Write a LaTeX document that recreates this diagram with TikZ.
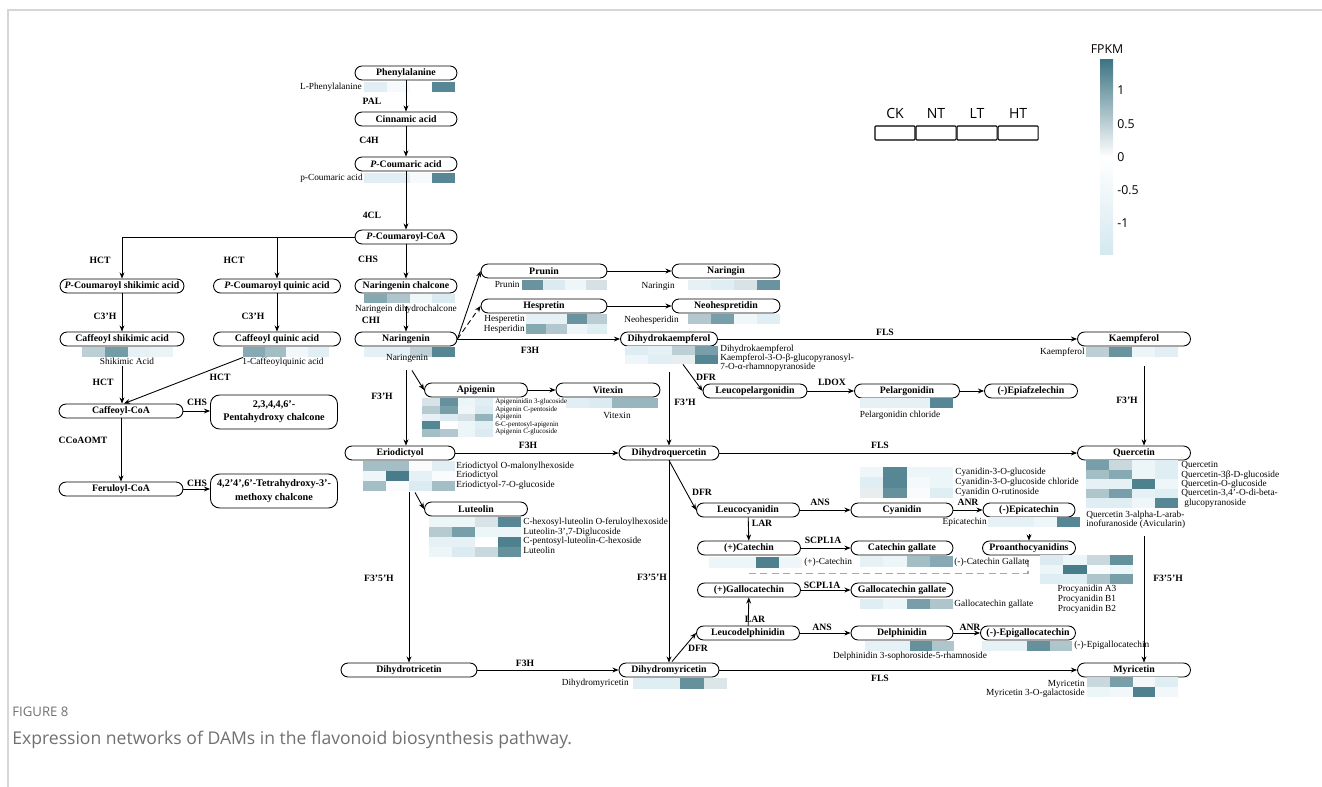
\documentclass[tikz,border=0pt]{standalone}
\usepackage{fontspec}
\setmainfont{Liberation Serif}
\newfontfamily\capfont{Open Sans}
\usetikzlibrary{arrows.meta, positioning, calc}
\definecolor{hi}{HTML}{3E7584}
\definecolor{lo}{HTML}{D4E8EF}
\definecolor{FrameGray}{HTML}{D6D6D6}
\definecolor{CapGray}{HTML}{707070}
\newcommand{\heatrow}[5]{%
  \foreach \hc [count=\k from 0] in {#5} {\fill[\hc] ({#1+\k*#3},#2) rectangle ++(#3,#4);}}

\begin{document}
\begin{tikzpicture}[x=0.02cm, y=-0.02cm,
  comp/.style={draw, fill=white, line width=0.5pt, rounded corners=0.14cm, minimum height=0.28cm, minimum width=#1, inner sep=0pt, font=\fontsize{5.6}{6}\selectfont\bfseries},
  comp/.default=2.04cm,
  chal/.style={draw, fill=white, line width=0.5pt, rounded corners=0.18cm, minimum height=0.68cm, minimum width=2.54cm, align=center, inner sep=0pt, font=\fontsize{5.8}{7.5}\selectfont\bfseries},
  enz/.style={inner sep=0pt, font=\fontsize{5.5}{6}\selectfont\bfseries},
  lab/.style={inner sep=0pt, font=\fontsize{5.3}{5.3}\selectfont},
  sml/.style={inner sep=0pt, anchor=west, font=\fontsize{4}{4}\selectfont},
  arr/.style={-{Stealth[length=3.5pt,width=2.8pt]}, line width=0.5pt},
  dasharr/.style={arr, dash pattern=on 3pt off 2pt},
  guide/.style={gray!70, line width=0.6pt, dash pattern=on 4pt off 2.5pt},
  legbox/.style={draw, line width=0.6pt, rounded corners=0.5pt, minimum width=0.8cm, minimum height=0.28cm, inner sep=0pt},
  sans/.style={inner sep=0pt, font=\capfont\fontsize{7}{8}\selectfont},
]
\useasboundingbox (0,0) rectangle (1322,787);
\draw[FrameGray, line width=0.7pt] (8,787) -- (8,10) -- (1322,10);

\node[comp] (phe) at (406,73) {Phenylalanine};
\node[comp] (cin) at (406,119) {Cinnamic acid};
\node[comp] (pca) at (406,164) {\textit{P}-Coumaric acid};
\node[comp] (pcoa) at (406,237) {\textit{P}-Coumaroyl-CoA};
\node[comp] (nch) at (406,286) {Naringenin chalcone};
\node[comp] (nar) at (406,339) {Naringenin};
\node[comp=2.48cm] (pcs) at (122,286) {\textit{P}-Coumaroyl shikimic acid};
\node[comp=2.54cm] (pcq) at (277,286) {\textit{P}-Coumaroyl quinic acid};
\node[comp=2.48cm] (cfs) at (122,339) {Caffeoyl shikimic acid};
\node[comp=2.54cm] (cfq) at (277,339) {Caffeoyl quinic acid};
\node[comp=2.48cm] (cfcoa) at (121,411) {Caffeoyl-CoA};
\node[comp=2.48cm] (fercoa) at (121,489) {Feruloyl-CoA};
\node[chal] (pent) at (274,412) {2,3,4,4,6'-\\Pentahydroxy chalcone};
\node[chal] (tetra) at (274,491) {4,2'4',6'-Tetrahydroxy-3'-\\methoxy chalcone};
\node[comp=2.52cm] (pru) at (544,271) {Prunin};
\node[comp=2.52cm] (hes) at (544,306) {Hespretin};
\node[comp=2.16cm] (nrg) at (726,271) {Naringin};
\node[comp=2.16cm] (neo) at (726,306) {Neohespretidin};
\node[comp=1.94cm] (dhk) at (669,339) {Dihydrokaempferol};
\node[comp=2.26cm] (kae) at (1134,339) {Kaempferol};
\node[comp=2.06cm] (api) at (476,390) {Apigenin};
\node[comp=2.08cm] (vit) at (608,390) {Vitexin};
\node[comp=2.08cm] (lpg) at (755,391) {Leucopelargonidin};
\node[comp=2.1cm] (pel) at (907,391) {Pelargonidin};
\node[comp=1.86cm] (epiaf) at (1031,391) {(-)Epiafzelechin};
\node[comp=2.2cm] (eri) at (400,453) {Eriodictyol};
\node[comp=2.0cm] (dhq) at (669,453) {Dihydroquercetin};
\node[comp=2.26cm] (que) at (1134,453) {Quercetin};
\node[comp=2.06cm] (lut) at (476,509) {Luteolin};
\node[comp=2.06cm] (lcy) at (748,510) {Leucocyanidin};
\node[comp=2.04cm] (cya) at (902,510) {Cyanidin};
\node[comp=1.84cm] (epic) at (1029,510) {(-)Epicatechin};
\node[comp=2.06cm] (cat) at (749,548) {(+)Catechin};
\node[comp=2.04cm] (catg) at (902,548) {Catechin gallate};
\node[comp=1.86cm] (proa) at (1029,548) {Proanthocyanidins};
\node[comp=2.06cm] (gcat) at (749,590) {(+)Gallocatechin};
\node[comp=2.04cm] (gcatg) at (902,590) {Gallocatechin gallate};
\node[comp=2.06cm] (ldel) at (748,633) {Leucodelphinidin};
\node[comp=2.04cm] (del) at (902,633) {Delphinidin};
\node[comp=1.9cm] (egc) at (1028,633) {(-)-Epigallocatechin};
\node[comp=2.72cm] (dht) at (409,670) {Dihydrotricetin};
\node[comp=2.0cm] (dhm) at (669,670) {Dihydromyricetin};
\node[comp=2.26cm] (myr) at (1134,670) {Myricetin};

\heatrow{364}{82}{22.75}{10}{lo!70,lo!20,white,hi!87}
\heatrow{364}{173}{22.75}{10}{lo!70,lo!70,lo!20,hi!87}
\heatrow{82}{347}{22.75}{10}{hi!35,hi!72,lo!60,lo!50}
\heatrow{243}{347}{21.5}{10}{hi!62,hi!48,lo!30,lo!70}
\heatrow{364}{294}{22.75}{9.5}{hi!63,hi!42,lo!35,lo!85}
\heatrow{364}{347}{22.75}{9.5}{lo!65,lo!65,hi!33,hi!88}
\heatrow{522}{280}{21.25}{10}{hi!78,lo!85,lo!40,hi!22}
\heatrow{526}{314}{20.25}{10}{lo!60,lo!60,hi!78,hi!36}
\heatrow{526}{324}{20.25}{10}{hi!63,hi!40,lo!40,lo!75}
\heatrow{688}{280}{23}{10}{lo!60,lo!75,hi!20,hi!78}
\heatrow{688}{314}{23}{10}{hi!40,hi!70,lo!35,lo!70}
\heatrow{625}{346}{23.25}{9}{lo!80,lo!60,hi!35,hi!70}
\heatrow{625}{355}{23.25}{9}{lo!40,lo!70,hi!12,hi!88}
\heatrow{1086}{347}{23}{10}{hi!35,hi!78,lo!45,lo!70}
\heatrow{422}{398}{17.75}{7.8}{hi!20,hi!80,lo!45,lo!70}
\heatrow{422}{405.8}{17.75}{7.8}{hi!38,hi!70,lo!35,lo!85}
\heatrow{422}{413.6}{17.75}{7.8}{lo!60,lo!85,hi!22,hi!55}
\heatrow{422}{421.4}{17.75}{7.8}{hi!88,white,lo!45,lo!70}
\heatrow{422}{429.2}{17.75}{7.8}{hi!47,hi!40,lo!45,lo!85}
\heatrow{566}{398}{23}{9.5}{lo!70,lo!85,hi!53,hi!53}
\heatrow{363}{461}{23}{10}{hi!47,hi!47,lo!15,lo!70}
\heatrow{363}{471}{23}{10}{lo!40,hi!95,lo!60,lo!15}
\heatrow{363}{481}{23}{10}{hi!47,lo!15,lo!85,hi!47}
\heatrow{429}{517}{23}{10}{lo!45,lo!45,hi!20,hi!87}
\heatrow{429}{527}{23}{10}{hi!38,hi!70,lo!45,lo!45}
\heatrow{429}{537}{23}{10}{lo!60,lo!60,white,hi!92}
\heatrow{429}{547}{23}{10}{lo!45,lo!85,hi!28,hi!80}
\heatrow{860}{398}{23.25}{10}{lo!60,lo!60,lo!60,hi!87}
\heatrow{860}{467}{23.25}{10.3}{lo!40,hi!87,lo!45,lo!45}
\heatrow{860}{477.3}{23.25}{10.3}{lo!75,hi!87,lo!25,lo!45}
\heatrow{860}{487.6}{23.25}{10.3}{hi!12,hi!80,lo!15,lo!75}
\heatrow{988}{517}{23}{10}{lo!60,lo!60,lo!40,hi!87}
\heatrow{1040}{555}{23.25}{9.5}{lo!85,lo!45,hi!28,hi!80}
\heatrow{1040}{564.5}{23.25}{9.5}{lo!45,hi!95,lo!15,lo!45}
\heatrow{1040}{574}{23.25}{9.5}{lo!75,lo!75,hi!42,hi!70}
\heatrow{709}{557}{23.25}{11}{lo!45,lo!45,hi!92,lo!40}
\heatrow{860}{556}{23.25}{11}{lo!60,lo!45,hi!47,hi!62}
\heatrow{860}{599}{23.25}{10}{lo!75,lo!45,hi!70,hi!42}
\heatrow{865}{641}{22.25}{10}{lo!60,lo!60,hi!80,hi!42}
\heatrow{982}{641}{22.5}{10}{lo!60,lo!60,hi!80,hi!42}
\heatrow{633}{678}{23.5}{11}{lo!75,lo!75,hi!80,hi!18}
\heatrow{1087}{677}{22.75}{10}{hi!28,hi!70,lo!30,lo!75}
\heatrow{1087}{687}{22.75}{10}{lo!45,lo!30,hi!92,lo!30}
\heatrow{1086}{460}{23}{9.6}{hi!70,hi!28,lo!45,lo!75}
\heatrow{1086}{469.6}{23}{9.6}{hi!47,hi!62,lo!45,lo!75}
\heatrow{1086}{479.2}{23}{9.6}{lo!60,lo!60,hi!92,lo!40}
\heatrow{1086}{488.8}{23}{9.6}{hi!42,hi!70,lo!60,lo!75}
\heatrow{1086}{498.4}{23}{9.6}{lo!75,lo!75,lo!40,hi!87}

\draw[arr] (phe) -- (cin);
\draw[arr] (cin) -- (pca);
\draw[arr] (pca) -- (pcoa);
\draw[arr] (pcoa) -- (nch);
\draw[arr] (pcoa.west) -| (pcs.north);
\draw[arr] (pcoa.west -| pcq.north) -- (pcq.north);
\draw[arr] (pcs) -- (cfs);
\draw[arr] (pcq) -- (cfq);
\draw[arr] ($(cfs.south)+(0,20)$) -- (cfs.south |- cfcoa.north);
\draw[arr] ($(cfq.south)+(-34,11)$) -- ($(cfcoa.north)+(3,0)$);
\draw[arr] (cfcoa) -- (fercoa);
\draw[arr] (cfcoa.east) -- (cfcoa.east -| pent.west);
\draw[arr] (fercoa.east) -- (fercoa.east -| tetra.west);
\draw[arr] ($(nch.south)+(0,13)$) -- (nar);
\draw[arr] (nar.east) -- (pru.west);
\draw[dasharr] (nar.east) -- (hes.west);
\draw[arr] (nar) -- (dhk);
\draw[arr] (pru) -- (nrg);
\draw[arr] (hes) -- (neo);
\draw[arr] ($(nar.south)+(0,24)$) -- (nar.south |- eri.north);
\draw[arr] ($(nar.south)+(6,24)$) -- (api.west);
\draw[arr] (api) -- (vit);
\draw[arr] (dhk) -- (kae);
\draw[arr] ($(kae.south)+(10,20)$) -- ($(que.north)+(10,0)$);
\draw[arr] ($(dhk.south)+(0,26)$) -- (dhq);
\draw[arr] ($(dhk.south)+(14,18)$) -- (lpg.west);
\draw[arr] (lpg) -- (pel);
\draw[arr] (pel) -- (epiaf);
\draw[arr] (eri) -- (dhq);
\draw[arr] (dhq) -- (que);
\draw[arr] ($(eri.south)+(15,32)$) -- (lut.west);
\draw[arr] ($(eri.south -| dht.north)+(0,32)$) -- (dht.north);
\draw[arr] (dht) -- (dhm);
\draw[arr] (dhq) -- (dhm);
\draw[arr] (dhq.south) -- (lcy.west);
\draw[arr] (lcy) -- (cya);
\draw[arr] (cya) -- (epic);
\draw[dasharr] ($(epic.south)+(0,17)$) -- (proa);
\draw[arr] (lcy) -- (cat);
\draw[arr] (cat) -- (catg);
\draw[guide] ($(cat.south)+(0,18)$) -| ($(proa.south)+(-1,3)$);
\draw[arr] (ldel) -- (gcat);
\draw[arr] (gcat) -- (gcatg);
\draw[arr] (ldel) -- (del);
\draw[arr] (del) -- (egc);
\draw[arr] ($(dhm.north)+(3,-1)$) -- (ldel.west);
\draw[arr] (dhm) -- (myr);
\draw[arr] ($(que.south)+(10,76)$) -- ($(myr.north)+(10,0)$);

\node[enz] (pal) at (372,101) {PAL};
\node[enz] (c4h) at (369,140) {C4H};
\node[enz] (cl4) at (372,215) {4CL};
\node[enz] (chs) at (368,259) {CHS};
\node[enz] (chi) at (371,320) {CHI};
\node[enz] (hct1) at (100,260) {HCT};
\node[enz] (hct2) at (234,260) {HCT};
\node[enz] (c3h1) at (105,316) {C3'H};
\node[enz] (c3h2) at (253,316) {C3'H};
\node[enz] (hct3) at (103,382) {HCT};
\node[enz] (hct4) at (220,377) {HCT};
\node[enz] (chs2) at (197,402) {CHS};
\node[enz] (ccoa) at (83,440) {CCoAOMT};
\node[enz] (chs3) at (197,483) {CHS};
\node[enz] (f3h1) at (530,350) {F3H};
\node[enz] (f3h2) at (382,396) {F3'H};
\node[enz] (f3h3) at (528,445) {F3H};
\node[enz] (f3h4) at (685,402) {F3'H};
\node[enz] (dfr1) at (706,377) {DFR};
\node[enz] (ldox) at (832,382) {LDOX};
\node[enz] (fls1) at (885,332) {FLS};
\node[enz] (f3h5) at (1127,400) {F3'H};
\node[enz] (fls2) at (880,445) {FLS};
\node[enz] (dfr2) at (702,492) {DFR};
\node[enz] (ans1) at (820,502) {ANS};
\node[enz] (lar1) at (762,523) {LAR};
\node[enz] (anr1) at (968,502) {ANR};
\node[enz] (scp1) at (823,540) {SCPL1A};
\node[enz] (f35h1) at (652,577) {F3'5'H};
\node[enz] (f35h2) at (379,578) {F3'5'H};
\node[enz] (f35h3) at (1168,578) {F3'5'H};
\node[enz] (scp2) at (822,585) {SCPL1A};
\node[enz] (lar2) at (755,619) {LAR};
\node[enz] (ans2) at (822,627) {ANS};
\node[enz] (anr2) at (970,627) {ANR};
\node[enz] (dfr3) at (698,648) {DFR};
\node[enz] (f3h6) at (525,663) {F3H};
\node[enz] (fls3) at (880,678) {FLS};

\node[lab, anchor=east] (tphe) at (362,87) {L-Phenylalanine};
\node[lab, anchor=east] (tpca) at (363,178) {p-Coumaric acid};
\node[lab] (tshik) at (127,361) {Shikimic Acid};
\node[lab] (tcq) at (283,362) {1-Caffeoylquinic acid};
\node[lab] (tndc) at (406,309) {Naringein dihydrochalcone};
\node[lab] (tnar) at (407,358) {Naringenin};
\node[lab, anchor=east] (tpru) at (520,284) {Prunin};
\node[lab, anchor=east] (thes1) at (525,319) {Hesperetin};
\node[lab, anchor=east] (thes2) at (525,329) {Hesperidin};
\node[lab, anchor=east] (tnrg) at (675,286) {Naringin};
\node[lab, anchor=east] (tneo) at (679,320) {Neohesperidin};
\node[lab, anchor=west] (tdhk1) at (720,349) {Dihydrokaempferol};
\node[lab, anchor=west] (tdhk2) at (720,358) {Kaempferol-3-O-β-glucopyranosyl-};
\node[lab, anchor=west] (tdhk3) at (720,367) {7-O-α-rhamnopyranoside};
\node[lab, anchor=east] (tkae) at (1085,352) {Kaempferol};
\node[sml] (tapi1) at (495,402) {Apigeninidin 3-glucoside};
\node[sml] (tapi2) at (495,409.5) {Apigenin C-pentoside};
\node[sml] (tapi3) at (495,417) {Apigenin};
\node[sml] (tapi4) at (495,424.5) {6-C-pentosyl-apigenin};
\node[sml] (tapi5) at (495,432) {Apigenin C-glucoside};
\node[lab] (tvit) at (617,415) {Vitexin};
\node[lab, anchor=west] (teri1) at (456,466) {Eriodictyol O-malonylhexoside};
\node[lab, anchor=west] (teri2) at (456,475) {Eriodictyol};
\node[lab, anchor=west] (teri3) at (456,485) {Eriodictyol-7-O-glucoside};
\node[lab, anchor=west] (tlut1) at (523,522) {C-hexosyl-luteolin O-feruloylhexoside};
\node[lab, anchor=west] (tlut2) at (523,532) {Luteolin-3',7-Diglucoside};
\node[lab, anchor=west] (tlut3) at (523,541) {C-pentosyl-luteolin-C-hexoside};
\node[lab, anchor=west] (tlut4) at (523,550) {Luteolin};
\node[lab] (tpel) at (900,415) {Pelargonidin chloride};
\node[lab, anchor=west] (tcya1) at (955,472) {Cyanidin-3-O-glucoside};
\node[lab, anchor=west] (tcya2) at (955,482) {Cyanidin-3-O-glucoside chloride};
\node[lab, anchor=west] (tcya3) at (955,492) {Cyanidin O-rutinoside};
\node[lab, anchor=east] (tepic) at (987,522) {Epicatechin};
\node[lab, anchor=west] (tcat) at (804,562) {(+)-Catechin};
\node[lab, anchor=west] (tcatg) at (954,562) {(-)-Catechin Gallate};
\node[lab] (tpro1) at (1087,589) {Procyanidin A3};
\node[lab] (tpro2) at (1087,599) {Procyanidin B1};
\node[lab] (tpro3) at (1087,609) {Procyanidin B2};
\node[lab, anchor=west] (tgcatg) at (954,604) {Gallocatechin gallate};
\node[lab] (tdel) at (910,656) {Delphinidin 3-sophoroside-5-rhamnoside};
\node[lab, anchor=west] (tegc) at (1074,645) {(-)-Epigallocatechin};
\node[lab, anchor=east] (tdhm) at (629,683) {Dihydromyricetin};
\node[lab, anchor=east] (tmyr1) at (1085,684) {Myricetin};
\node[lab, anchor=east] (tmyr2) at (1085,693) {Myricetin 3-O-galactoside};
\node[lab, anchor=west] (tque1) at (1181,465) {Quercetin};
\node[lab, anchor=west] (tque2) at (1181,475) {Quercetin-3β-D-glucoside};
\node[lab, anchor=west] (tque3) at (1181,484) {Quercetin-O-glucoside};
\node[lab, anchor=west] (tque4) at (1181,493) {Quercetin-3,4'-O-di-beta-};
\node[lab, anchor=west] (tque5) at (1184,503) {glucopyranoside};
\node[lab, anchor=west] (tque6) at (1086,515) {Quercetin 3-alpha-L-arab-};
\node[lab, anchor=west] (tque7) at (1086,524) {inofuranoside (Avicularin)};

\node[legbox] (ck) at (895,133) {};
\node[legbox, right=0pt of ck] (nt) {};
\node[legbox, right=0pt of nt] (lt) {};
\node[legbox, right=0pt of lt] (ht) {};
\foreach \g in {ck,nt,lt,ht} {\node[sans, font=\capfont\fontsize{8}{8}\selectfont, above=3.5pt of \g] (t\g) {\MakeUppercase{\g}};}

\shade[top color=hi, bottom color=white] (1100,60) rectangle (1113,157);
\shade[top color=white, bottom color=lo] (1100,157) rectangle (1113,255);
\node[sans] (fpkm) at (1107,49) {FPKM};
\node[sans, anchor=west] (b1) at (1117,90) {1};
\node[sans, anchor=west] (b2) at (1117,124) {0.5};
\node[sans, anchor=west] (b3) at (1117,157) {0};
\node[sans, anchor=west] (b4) at (1117,190) {-0.5};
\node[sans, anchor=west] (b5) at (1117,223) {-1};

\node[anchor=west, inner sep=0pt, text=CapGray, font=\capfont\fontsize{7.5}{8}\selectfont] (fig) at (12,712) {FIGURE 8};
\node[anchor=west, inner sep=0pt, text=CapGray, font=\capfont\fontsize{10}{11}\selectfont] (cap) at (12,740) {Expression networks of DAMs in the flavonoid biosynthesis pathway.};
\end{tikzpicture}
\end{document}
